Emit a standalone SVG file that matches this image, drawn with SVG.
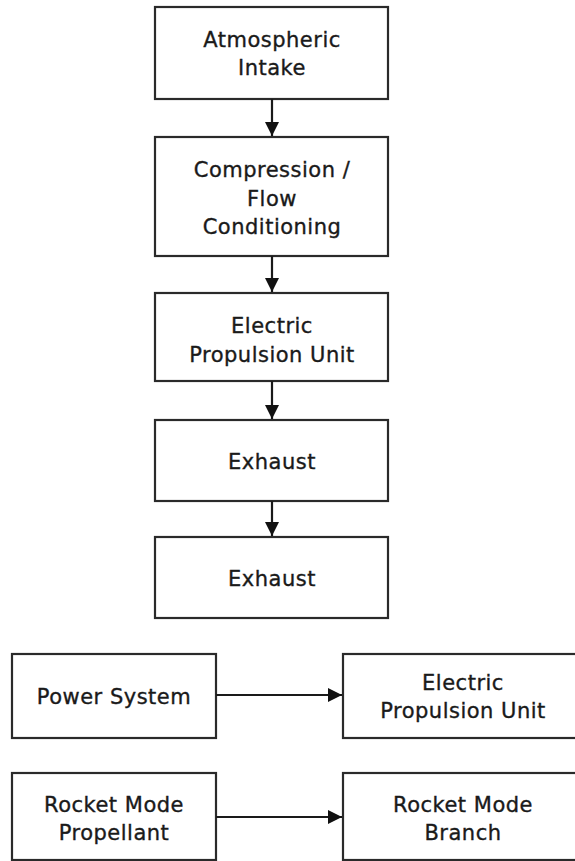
<svg xmlns="http://www.w3.org/2000/svg" width="575" height="861" viewBox="0 0 575 861">
<style>
rect.box{fill:#fff;stroke:#2a2a2a;stroke-width:2.2}
text{font-family:"DejaVu Sans",sans-serif;font-size:21px;fill:#1a1a1a;stroke:#1a1a1a;stroke-width:0.35;text-anchor:middle;letter-spacing:0.5px}
.conn line{stroke:#1a1a1a;stroke-width:2.2}
</style>
<defs>
<marker id="ah" viewBox="0 0 14 14" refX="14" refY="7" markerWidth="14" markerHeight="14" markerUnits="userSpaceOnUse" orient="auto">
<path d="M0,0 L14,7 L0,14 Z" fill="#111"/>
</marker>
</defs>
<rect width="575" height="861" fill="#fff"/>
<g id="intake"><rect class="box" x="155" y="7" width="233" height="92"/><text x="272" y="47">Atmospheric</text><text x="272" y="75">Intake</text></g>
<g id="compression"><rect class="box" x="155" y="137" width="233" height="119"/><text x="272" y="177">Compression /</text><text x="272" y="206">Flow</text><text x="272" y="234">Conditioning</text></g>
<g id="epu"><rect class="box" x="155" y="293" width="233" height="88"/><text x="272" y="333">Electric</text><text x="272" y="362">Propulsion Unit</text></g>
<g id="exhaust1"><rect class="box" x="155" y="420" width="233" height="81"/><text x="272" y="469">Exhaust</text></g>
<g id="exhaust2"><rect class="box" x="155" y="537" width="233" height="81"/><text x="272" y="586">Exhaust</text></g>
<g id="power"><rect class="box" x="12" y="654" width="204" height="84"/><text x="114" y="704">Power System</text></g>
<g id="epu2"><rect class="box" x="343" y="654" width="240" height="84"/><text x="463" y="690">Electric</text><text x="463" y="718">Propulsion Unit</text></g>
<g id="propellant"><rect class="box" x="12" y="773" width="204" height="87"/><text x="114" y="812">Rocket Mode</text><text x="114" y="840">Propellant</text></g>
<g id="branch"><rect class="box" x="343" y="773" width="240" height="87"/><text x="463" y="812">Rocket Mode</text><text x="463" y="840">Branch</text></g>
<g class="conn" id="connectors">
<line x1="272" y1="99" x2="272" y2="136" marker-end="url(#ah)"/>
<line x1="272" y1="256" x2="272" y2="292" marker-end="url(#ah)"/>
<line x1="272" y1="381" x2="272" y2="419" marker-end="url(#ah)"/>
<line x1="272" y1="501" x2="272" y2="536" marker-end="url(#ah)"/>
<line x1="216" y1="695" x2="342" y2="695" marker-end="url(#ah)"/>
<line x1="216" y1="817" x2="342" y2="817" marker-end="url(#ah)"/>
</g>
</svg>
